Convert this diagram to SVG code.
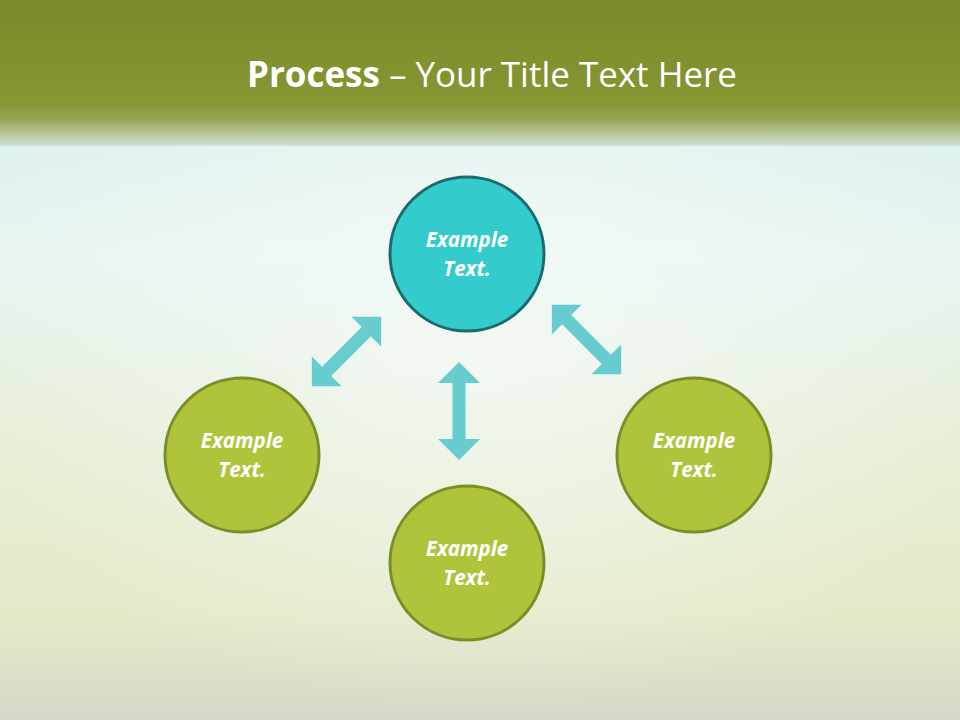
<svg xmlns="http://www.w3.org/2000/svg" width="960" height="720" viewBox="0 0 960 720">
<defs>
<linearGradient id="bg" x1="0" y1="0" x2="0" y2="1">
<stop offset="0" stop-color="#d2eaed"/>
<stop offset="0.35" stop-color="#e8f4f2"/>
<stop offset="0.6" stop-color="#e6efd8"/>
<stop offset="0.85" stop-color="#e4eac8"/>
<stop offset="1" stop-color="#d4d8c8"/>
</linearGradient>
<radialGradient id="glow" cx="0.5" cy="0.45" r="0.55">
<stop offset="0" stop-color="#f4faf6" stop-opacity="0.8"/>
<stop offset="1" stop-color="#f4faf6" stop-opacity="0"/>
</radialGradient>
<linearGradient id="hdr" x1="0" y1="0" x2="0" y2="1">
<stop offset="0" stop-color="#7a8a28"/>
<stop offset="0.7" stop-color="#859633"/>
<stop offset="0.82" stop-color="#97a855"/>
<stop offset="0.92" stop-color="#b8c9a0"/>
<stop offset="1" stop-color="#cfe2d8"/>
</linearGradient>
<polygon id="arr" points="49,0 28,-21 28,-6.5 -28,-6.5 -28,-21 -49,0 -28,21 -28,6.5 28,6.5 28,21"/>
</defs>
<style>
.title{font-family:"Open Sans","Noto Sans",sans-serif;font-size:35px;fill:#ffffff}
.lbl{font-family:"Open Sans","Noto Sans",sans-serif;font-size:20.5px;font-weight:bold;font-style:italic;fill:#ffffff;text-anchor:middle}
.teal{fill:#33cbcc;stroke:#1a6b6e;stroke-width:3}
.green{fill:#afc43b;stroke:#778f26;stroke-width:3}
.arrow{fill:#66cccf}
</style>
<rect width="960" height="720" fill="url(#bg)"/>
<rect width="960" height="720" fill="url(#glow)"/>
<rect width="960" height="146" fill="url(#hdr)"/>
<text class="title" x="492" y="87" text-anchor="middle" textLength="490" lengthAdjust="spacingAndGlyphs"><tspan font-weight="bold">Process</tspan> – Your Title Text Here</text>
<g id="connectors">
<use href="#arr" class="arrow" transform="translate(346.5,351.5) rotate(-45)"/>
<use href="#arr" class="arrow" transform="translate(459,411) rotate(90)"/>
<use href="#arr" class="arrow" transform="translate(586.5,339.5) rotate(45)"/>
</g>
<g id="node-top">
<circle class="teal" cx="467" cy="254" r="77"/>
<text class="lbl" x="467" y="247">Example</text>
<text class="lbl" x="467" y="276">Text.</text>
</g>
<g id="node-left">
<circle class="green" cx="242" cy="455" r="77"/>
<text class="lbl" x="242" y="448">Example</text>
<text class="lbl" x="242" y="477">Text.</text>
</g>
<g id="node-right">
<circle class="green" cx="694" cy="455" r="77"/>
<text class="lbl" x="694" y="448">Example</text>
<text class="lbl" x="694" y="477">Text.</text>
</g>
<g id="node-bottom">
<circle class="green" cx="467" cy="563" r="77"/>
<text class="lbl" x="467" y="556">Example</text>
<text class="lbl" x="467" y="585">Text.</text>
</g>
</svg>
